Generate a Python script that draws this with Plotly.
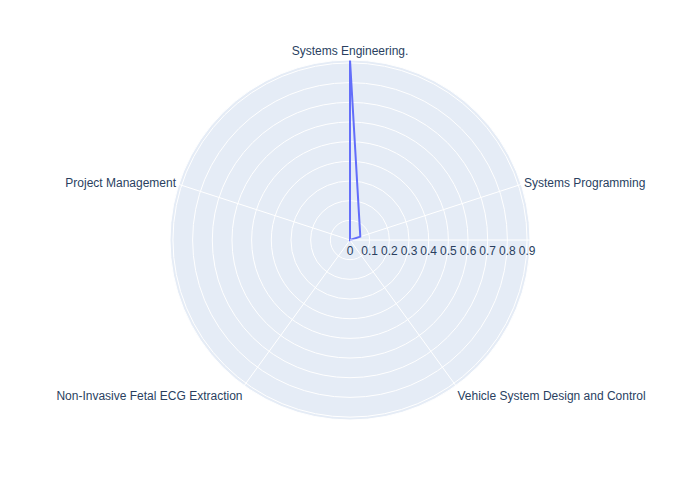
import plotly.graph_objects as go

categories = ["Systems Engineering.", "Systems Programming", "Vehicle System Design and Control",
              "Non-Invasive Fetal ECG Extraction", "Project Management"]
values = [0.915, 0.055, 0, 0, 0]

fig = go.Figure()
fig.add_trace(go.Scatterpolar(
    r=values + [values[0]],
    theta=categories + [categories[0]],
    mode="lines",
))
fig.update_layout(
    width=700, height=500, showlegend=False,
    font=dict(family="Liberation Sans, Arial, sans-serif"),
    margin=dict(t=52, b=88, l=70, r=86),
    polar=dict(
        angularaxis=dict(rotation=90, direction="clockwise"),
        radialaxis=dict(angle=0, tickangle=0),
    ),
)
fig.write_html("out.html")
